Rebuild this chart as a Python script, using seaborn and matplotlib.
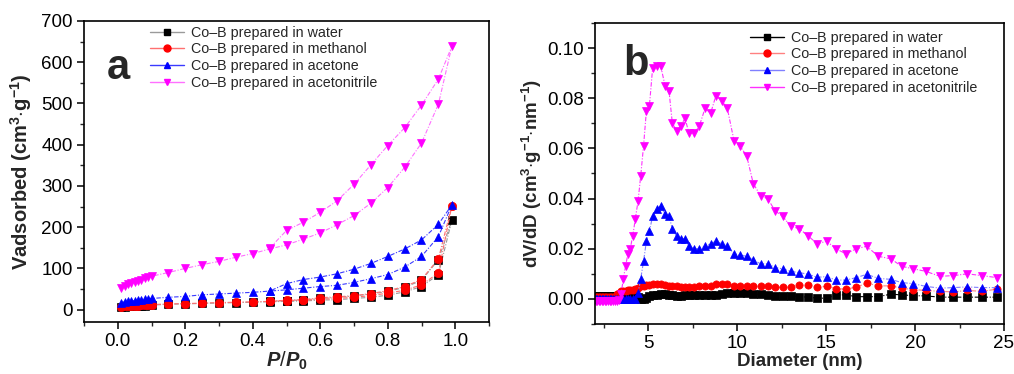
import numpy as np
import pandas as pd
import matplotlib
matplotlib.use("Agg")
import matplotlib.pyplot as plt
from matplotlib.lines import Line2D
from matplotlib.ticker import MultipleLocator
import seaborn as sns

# ---------------- data: panel a (N2 isotherms) ----------------
p_ads = [0.01, 0.02, 0.03, 0.04, 0.05, 0.06, 0.07, 0.08, 0.09, 0.10,
         0.15, 0.20, 0.25, 0.30, 0.35, 0.40, 0.45, 0.50, 0.55, 0.60,
         0.65, 0.70, 0.75, 0.80, 0.85, 0.90, 0.95, 0.99]
p_des = [0.95, 0.90, 0.85, 0.80, 0.75, 0.70, 0.65, 0.60, 0.55, 0.50, 0.45]

water_ads = [6, 7, 8, 8, 9, 9, 10, 10, 11, 11, 13, 14, 15, 16, 17, 18, 19, 20,
             21, 23, 24, 27, 30, 35, 43, 56, 85, 217]
water_des = [121, 71, 54, 44, 38, 33, 30, 27, 24, 22, 20]
methanol_ads = [7, 8, 9, 9, 10, 10, 11, 11, 12, 12, 14, 14.5, 16, 17, 18, 19, 20,
                22, 23, 25, 27, 30, 34, 40, 47, 60, 89, 252]
methanol_des = [123, 73, 56, 46, 39, 34, 31, 29, 24, 23, 20]
acetone_ads = [17, 19, 20, 21, 22, 23, 24, 25, 26, 27, 30, 32, 36, 38, 40, 42, 45,
               48, 52, 56, 59, 66, 75, 85, 103, 129, 177, 254]
acetone_des = [207, 169, 147, 129, 112, 98, 87, 79, 73, 63, 45]
acetonitrile_ads = [52, 57, 61, 64, 67, 70, 73, 76, 78, 81, 90, 100, 109, 117, 127,
                    136, 147, 157, 171, 186, 206, 228, 258, 296, 345, 404, 498, 639]
acetonitrile_des = [559, 496, 441, 398, 351, 304, 264, 236, 212, 192, 149]

# ---------------- data: panel b (pore size distribution) ----------------
diameter = [2.06, 2.13, 2.21, 2.29, 2.37, 2.45, 2.54, 2.63, 2.72, 2.82,
            2.92, 3.02, 3.13, 3.24, 3.35, 3.47, 3.59, 3.72, 3.85, 3.98,
            4.12, 4.27, 4.42, 4.57, 4.73, 4.89, 5.06, 5.24, 5.47, 5.69,
            5.94, 6.16, 6.35, 6.59, 6.82, 7.06, 7.29, 7.59, 7.87, 8.19,
            8.50, 8.80, 9.12, 9.44, 9.82, 10.15, 10.53, 10.90, 11.32, 11.71,
            12.14, 12.55, 13.00, 13.49, 14.00, 14.50, 15.03, 15.55, 16.10, 16.70,
            17.28, 17.93, 18.63, 19.25, 19.90, 20.60, 21.40, 22.15, 22.94, 23.74,
            24.60]
water_psd = [0.0012, 0.0012, 0.0012, 0.0012, 0.0012, 0.0012, 0.0012, 0.0012, 0.0012, 0.0012,
             0.0012, 0.0012, 0.0012, 0.0012, 0.0012, 0.0006, 0.0006, 0.0006, 0.0006, 0.0006,
             0.0006, 0.0006, 0.0006, 0.0000, 0.0000, 0.0003, 0.0010, 0.0015, 0.0017, 0.0018,
             0.0018, 0.0017, 0.0015, 0.0012, 0.0010, 0.0015, 0.0017, 0.0015, 0.0015, 0.0015,
             0.0016, 0.0017, 0.0020, 0.0025, 0.0025, 0.0024, 0.0022, 0.0020, 0.0018, 0.0017,
             0.0013, 0.0012, 0.0012, 0.0009, 0.0007, 0.0003, 0.0003, 0.0016, 0.0016, 0.0009,
             0.0009, 0.0009, 0.0019, 0.0016, 0.0013, 0.0012, 0.0007, 0.0007, 0.0007, 0.0007,
             0.0007]
methanol_psd = [0.0008, 0.0008, 0.0008, 0.0008, 0.0008, 0.0008, 0.0008, 0.0008, 0.0008, 0.0008,
                0.0008, 0.0008, 0.0008, 0.0020, 0.0025, 0.0030, 0.0032, 0.0033, 0.0035, 0.0035,
                0.0037, 0.0040, 0.0045, 0.0050, 0.0052, 0.0055, 0.0057, 0.0058, 0.0058, 0.0058,
                0.0056, 0.0053, 0.0050, 0.0050, 0.0048, 0.0049, 0.0048, 0.0047, 0.0050, 0.0050,
                0.0052, 0.0058, 0.0060, 0.0058, 0.0053, 0.0053, 0.0052, 0.0052, 0.0052, 0.0050,
                0.0048, 0.0046, 0.0048, 0.0055, 0.0055, 0.0047, 0.0050, 0.0041, 0.0039, 0.0047,
                0.0063, 0.0052, 0.0052, 0.0043, 0.0037, 0.0034, 0.0030, 0.0028, 0.0034, 0.0030,
                0.0039]
acetone_psd = [0.0000, 0.0000, 0.0000, 0.0000, 0.0000, 0.0000, 0.0000, 0.0000, 0.0000, 0.0000,
               0.0000, 0.0000, 0.0000, 0.0000, 0.0000, 0.0000, 0.0000, 0.0000, 0.0000, 0.0000,
               0.0000, 0.0000, 0.0022, 0.0080, 0.0150, 0.0230, 0.0270, 0.0330, 0.0360, 0.0370,
               0.0340, 0.0330, 0.0280, 0.0250, 0.0240, 0.0240, 0.0210, 0.0200, 0.0200, 0.0210,
               0.0220, 0.0230, 0.0220, 0.0210, 0.0180, 0.0175, 0.0170, 0.0155, 0.0140, 0.0140,
               0.0125, 0.0120, 0.0110, 0.0105, 0.0098, 0.0086, 0.0089, 0.0075, 0.0075, 0.0085,
               0.0098, 0.0082, 0.0078, 0.0065, 0.0061, 0.0050, 0.0043, 0.0045, 0.0048, 0.0045,
               0.0045]
acetonitrile_psd = [-0.0008, -0.0008, -0.0008, -0.0008, -0.0008, -0.0008, -0.0008, -0.0008, -0.0008, -0.0008,
                    -0.0008, -0.0008, -0.0008, -0.0008, -0.0005, 0.0020, 0.0080, 0.0130, 0.0180, 0.0200,
                    0.0250, 0.0320, 0.0390, 0.0490, 0.0610, 0.0750, 0.0770, 0.0920, 0.0930, 0.0930,
                    0.0850, 0.0830, 0.0700, 0.0670, 0.0690, 0.0720, 0.0660, 0.0660, 0.0690, 0.0760,
                    0.0740, 0.0810, 0.0790, 0.0760, 0.0630, 0.0610, 0.0570, 0.0460, 0.0410, 0.0400,
                    0.0350, 0.0330, 0.0290, 0.0280, 0.0250, 0.0220, 0.0230, 0.0200, 0.0180, 0.0200,
                    0.0210, 0.0170, 0.0160, 0.0130, 0.0120, 0.0110, 0.0090, 0.0093, 0.0100, 0.0093,
                    0.0085]

labels = ["Co\u2013B prepared in water", "Co\u2013B prepared in methanol",
          "Co\u2013B prepared in acetone", "Co\u2013B prepared in acetonitrile"]
markers = ["s", "o", "^", "v"]
mcolors = ["#000000", "#ff0000", "#0000ff", "#ff00ff"]
lcolors_a = ["#9a9a9a", "#ff7070", "#3a3aff", "#ff70ff"]
lcolors_b = ["#000000", "#ff8080", "#8080ff", "#ff30ff"]

# ---------------- style ----------------
sns.set_style("ticks")
plt.rcParams["font.family"] = ["Liberation Sans", "DejaVu Sans"]
plt.rcParams["mathtext.fontset"] = "custom"
plt.rcParams["mathtext.rm"] = "Liberation Sans"
plt.rcParams["mathtext.bf"] = "Liberation Sans:bold"
plt.rcParams["mathtext.it"] = "Liberation Sans:italic:bold"
plt.rcParams["mathtext.default"] = "bf"

fig = plt.figure(figsize=(10.14, 3.74), dpi=100)
axa = fig.add_axes([84 / 1014, 52 / 374, 405 / 1014, 301 / 374])
axb = fig.add_axes([595 / 1014, 50 / 374, 409 / 1014, 301 / 374])

dash = (0, (4, 1.5, 1, 1.5))

# panel a
ads_sets = [water_ads, methanol_ads, acetone_ads, acetonitrile_ads]
des_sets = [water_des, methanol_des, acetone_des, acetonitrile_des]
for i in range(4):
    df = pd.DataFrame({"p": p_ads + p_des, "v": ads_sets[i] + des_sets[i]})
    sns.lineplot(data=df, x="p", y="v", sort=False, estimator=None, ax=axa,
                 color=lcolors_a[i], linewidth=0.8, linestyle=dash,
                 marker=markers[i], markersize=6, markerfacecolor=mcolors[i],
                 markeredgecolor=mcolors[i], markeredgewidth=0.5, legend=False)

# panel b
psd_sets = [water_psd, methanol_psd, acetone_psd, acetonitrile_psd]
for i in range(4):
    df = pd.DataFrame({"d": diameter, "y": psd_sets[i]})
    sns.lineplot(data=df, x="d", y="y", sort=False, estimator=None, ax=axb,
                 color=lcolors_b[i], linewidth=0.8, linestyle=dash,
                 marker=markers[i], markersize=5.2, markerfacecolor=mcolors[i],
                 markeredgecolor=mcolors[i], markeredgewidth=0.5, legend=False)

for ax in (axa, axb):
    for s in ax.spines.values():
        s.set_visible(True)
        s.set_linewidth(1.2)
        s.set_color("black")
    ax.tick_params(which="major", direction="out", length=5, width=1.1,
                   labelsize=13.5, colors="black", pad=3)
    ax.tick_params(which="minor", direction="out", length=3, width=1.0)
    ax.tick_params(top=False, right=False, which="both")

axa.set_xlim(-0.1, 1.1)
axa.set_ylim(-30, 700)
axa.xaxis.set_major_locator(MultipleLocator(0.2))
axa.xaxis.set_minor_locator(MultipleLocator(0.1))
axa.yaxis.set_major_locator(MultipleLocator(100))
axa.yaxis.set_minor_locator(MultipleLocator(50))
axa.set_xticks([0.0, 0.2, 0.4, 0.6, 0.8, 1.0])
axa.set_xticklabels(["0.0", "0.2", "0.4", "0.6", "0.8", "1.0"])
axa.set_xlabel(r"$\mathit{P/P}_{\mathbf{0}}$", fontsize=14.5, labelpad=0)
axa.set_ylabel(r"Vadsorbed (cm$^{3}$$\cdot$g$^{-1}$)", fontsize=14.5,
               fontweight="bold", labelpad=5)

axb.set_xlim(2, 25)
axb.set_ylim(-0.01, 0.11)
axb.xaxis.set_major_locator(MultipleLocator(5))
axb.xaxis.set_minor_locator(MultipleLocator(2.5))
axb.yaxis.set_major_locator(MultipleLocator(0.02))
axb.yaxis.set_minor_locator(MultipleLocator(0.01))
axb.set_yticks([0.00, 0.02, 0.04, 0.06, 0.08, 0.10])
axb.set_yticklabels(["0.00", "0.02", "0.04", "0.06", "0.08", "0.10"])
axb.set_xlabel("Diameter (nm)", fontsize=13.5, fontweight="bold", labelpad=1)
axb.set_ylabel(r"dV/dD (cm$^{3}$$\cdot$g$^{-1}$$\cdot$nm$^{-1}$)", fontsize=13.5,
               fontweight="bold", labelpad=2)

axa.text(0.084, 0.807, "a", transform=axa.transAxes, fontsize=30,
         fontweight="bold", ha="center", va="baseline")
axb.text(0.068, 0.827, "b", transform=axb.transAxes, fontsize=30,
         fontweight="bold", ha="left", va="baseline")

def handles(lcols):
    return [Line2D([], [], color=lcols[i], lw=1.0, marker=markers[i],
                   markersize=5, markerfacecolor=mcolors[i],
                   markeredgecolor=mcolors[i]) for i in range(4)]

axa.legend(handles(lcolors_a), labels, loc="upper left",
           bbox_to_anchor=(0.163, 0.985), frameon=False, fontsize=10.3,
           handlelength=2.4, handletextpad=0.45, labelspacing=0.2,
           borderpad=0, borderaxespad=0)
axb.legend(handles(lcolors_b), labels, loc="upper left",
           bbox_to_anchor=(0.379, 0.975), frameon=False, fontsize=10.3,
           handlelength=2.4, handletextpad=0.45, labelspacing=0.2,
           borderpad=0, borderaxespad=0)

fig.savefig("out.png", dpi=100)
